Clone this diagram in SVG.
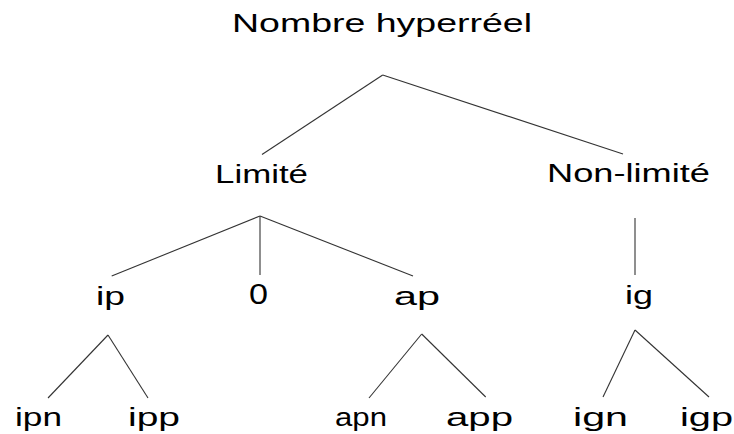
<svg xmlns="http://www.w3.org/2000/svg" width="734" height="434" viewBox="0 0 734 434">
<style>
.t{font-family:"Liberation Sans",Arial,sans-serif;font-size:26px;fill:#000}
.e{stroke:#333;stroke-width:1.1;fill:none}
</style>
<rect width="734" height="434" fill="#fff"/>
<g id="connectors">
<line class="e" x1="382.7" y1="75" x2="262" y2="154.5"/>
<line class="e" x1="382.7" y1="75" x2="623" y2="154"/>
<line class="e" x1="260" y1="216" x2="111.7" y2="276"/>
<line class="e" x1="260" y1="216" x2="260" y2="275"/>
<line class="e" x1="260" y1="216" x2="413" y2="276"/>
<line class="e" x1="635" y1="218" x2="635" y2="275"/>
<line class="e" x1="108" y1="335" x2="48" y2="398"/>
<line class="e" x1="108" y1="335" x2="148" y2="398"/>
<line class="e" x1="421.7" y1="334" x2="369" y2="398"/>
<line class="e" x1="421.7" y1="334" x2="485.7" y2="397"/>
<line class="e" x1="635" y1="330" x2="603" y2="397"/>
<line class="e" x1="635" y1="330" x2="709" y2="397"/>
</g>
<g id="n-root"><text class="t" x="232" y="32" textLength="300" lengthAdjust="spacingAndGlyphs">Nombre hyperréel</text></g>
<g id="n-limite"><text class="t" x="215" y="183" textLength="93" lengthAdjust="spacingAndGlyphs">Limité</text></g>
<g id="n-nonlimite"><text class="t" x="547" y="182" textLength="163" lengthAdjust="spacingAndGlyphs">Non-limité</text></g>
<g id="n-ip"><text class="t" x="96" y="305" textLength="29" lengthAdjust="spacingAndGlyphs">ip</text></g>
<g id="n-0"><text class="t" x="249" y="304" style="font-size:29px" textLength="19" lengthAdjust="spacingAndGlyphs">0</text></g>
<g id="n-ap"><text class="t" x="394" y="305" textLength="46" lengthAdjust="spacingAndGlyphs">ap</text></g>
<g id="n-ig"><text class="t" x="625" y="304" textLength="28" lengthAdjust="spacingAndGlyphs">ig</text></g>
<g id="n-ipn"><text class="t" x="15" y="426" textLength="47" lengthAdjust="spacingAndGlyphs">ipn</text></g>
<g id="n-ipp"><text class="t" x="128" y="426" textLength="52" lengthAdjust="spacingAndGlyphs">ipp</text></g>
<g id="n-apn"><text class="t" x="335" y="426" textLength="52" lengthAdjust="spacingAndGlyphs">apn</text></g>
<g id="n-app"><text class="t" x="446" y="426" textLength="67" lengthAdjust="spacingAndGlyphs">app</text></g>
<g id="n-ign"><text class="t" x="573" y="426" textLength="55" lengthAdjust="spacingAndGlyphs">ign</text></g>
<g id="n-igp"><text class="t" x="680" y="426" textLength="53" lengthAdjust="spacingAndGlyphs">igp</text></g>
</svg>
